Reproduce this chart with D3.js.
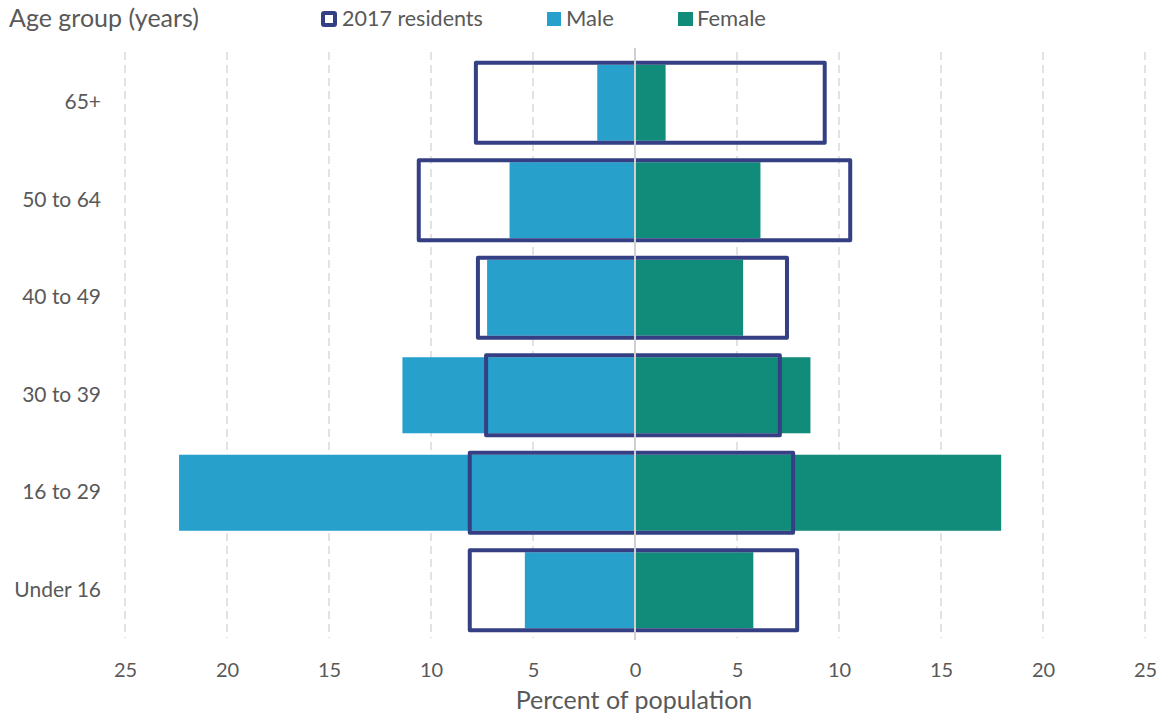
<!DOCTYPE html>
<html>
<head>
<meta charset="utf-8">
<script src="https://cdn.jsdelivr.net/npm/d3@7"></script>
<style>
  html, body { margin: 0; padding: 0; background: #fff; }
  svg { display: block; font-family: Lato, "Open Sans", sans-serif; }
</style>
</head>
<body>
<svg id="chart" width="1157" height="714"></svg>
<script>
// Age bands, top to bottom
const ageGroups = ["65+", "50 to 64", "40 to 49", "30 to 39", "16 to 29", "Under 16"];
// Percent of population by sex
const maleValues   = [1.85, 6.15, 7.25, 11.4, 22.35, 5.4];
const femaleValues = [1.5, 6.15, 5.3, 8.6, 17.95, 5.8];
// 2017 residents (outline), male side and female side
const residentsMale   = [7.8, 10.6, 7.7, 7.3, 8.1, 8.1];
const residentsFemale = [9.3, 10.55, 7.45, 7.1, 7.75, 7.95];
// Axis ticks
const tickValues = [-25, -20, -15, -10, -5, 0, 5, 10, 15, 20, 25];

const colMale = "#27A0CC", colFemale = "#118C7B", colOutline = "#353F84";
const textCol = "#595959";

const svg = d3.select("#chart");

const x = d3.scaleLinear().domain([-25, 25]).range([125, 1145]);
const y = d3.scaleBand().domain(ageGroups).range([54, 639])
  .paddingInner(0.22).paddingOuter(0.11);

const plotTop = 52, plotBottom = 638;

// dashed gridlines
svg.append("g").selectAll("line")
  .data(tickValues.filter(d => d !== 0))
  .join("line")
  .attr("x1", d => x(d)).attr("x2", d => x(d))
  .attr("y1", plotTop).attr("y2", plotBottom)
  .attr("stroke", "#d9d9d9").attr("stroke-width", 1.5)
  .attr("stroke-dasharray", "8,5");

const rows = ageGroups.map((g, i) => ({
  g, m: maleValues[i], f: femaleValues[i], rm: residentsMale[i], rf: residentsFemale[i]
}));

// male bars (left)
svg.append("g").selectAll("rect")
  .data(rows).join("rect")
  .attr("x", d => x(-d.m)).attr("width", d => x(0) - x(-d.m))
  .attr("y", d => y(d.g)).attr("height", y.bandwidth())
  .attr("fill", colMale);

// female bars (right)
svg.append("g").selectAll("rect")
  .data(rows).join("rect")
  .attr("x", x(0)).attr("width", d => x(d.f) - x(0))
  .attr("y", d => y(d.g)).attr("height", y.bandwidth())
  .attr("fill", colFemale);

// 2017 residents outlines
svg.append("g").selectAll("rect")
  .data(rows).join("rect")
  .attr("x", d => x(-d.rm)).attr("width", d => x(d.rf) - x(-d.rm))
  .attr("y", d => y(d.g) - 2).attr("height", y.bandwidth() + 4)
  .attr("fill", "none").attr("stroke", colOutline)
  .attr("stroke-width", 4).attr("stroke-linejoin", "round");

// zero line
svg.append("line")
  .attr("x1", x(0)).attr("x2", x(0))
  .attr("y1", plotTop - 4).attr("y2", plotBottom + 2)
  .attr("stroke", "#d0d0d0").attr("stroke-width", 2);

// x axis tick labels
const xAxis = d3.axisBottom(x).tickValues(tickValues)
  .tickFormat(d => Math.abs(d)).tickSize(0).tickPadding(0);
const gx = svg.append("g").attr("transform", "translate(0,677)").call(xAxis);
gx.select(".domain").remove();
gx.selectAll("text").attr("fill", textCol).attr("font-size", 20)
  .attr("font-family", "Lato, sans-serif").attr("dy", 0);

// category labels
const yAxis = d3.axisLeft(y).tickSize(0).tickPadding(0);
const gy = svg.append("g").attr("transform", "translate(101,0)").call(yAxis);
gy.select(".domain").remove();
gy.selectAll("text").attr("fill", textCol).attr("font-size", 21)
  .attr("font-family", "Lato, sans-serif");

// axis title
svg.append("text")
  .attr("x", 634).attr("y", 709)
  .attr("text-anchor", "middle")
  .attr("fill", textCol).attr("font-size", 25)
  .text("Percent of population");

// y title
svg.append("text")
  .attr("x", 9).attr("y", 27)
  .attr("fill", textCol).attr("font-size", 25)
  .text("Age group (years)");

// legend
const lg = svg.append("g");
lg.append("rect").attr("x", 323).attr("y", 13).attr("width", 12).attr("height", 12)
  .attr("fill", "#fff").attr("stroke", colOutline).attr("stroke-width", 4)
  .attr("rx", 1);
lg.append("text").attr("x", 342).attr("y", 26).attr("fill", textCol)
  .attr("font-size", 21.5).text("2017 residents");
lg.append("rect").attr("x", 547).attr("y", 12).attr("width", 14).attr("height", 14)
  .attr("fill", colMale);
lg.append("text").attr("x", 566).attr("y", 26).attr("fill", textCol)
  .attr("font-size", 22).text("Male");
lg.append("rect").attr("x", 678).attr("y", 12).attr("width", 15).attr("height", 14)
  .attr("fill", colFemale);
lg.append("text").attr("x", 697).attr("y", 26).attr("fill", textCol)
  .attr("font-size", 22).text("Female");
</script>
</body>
</html>
